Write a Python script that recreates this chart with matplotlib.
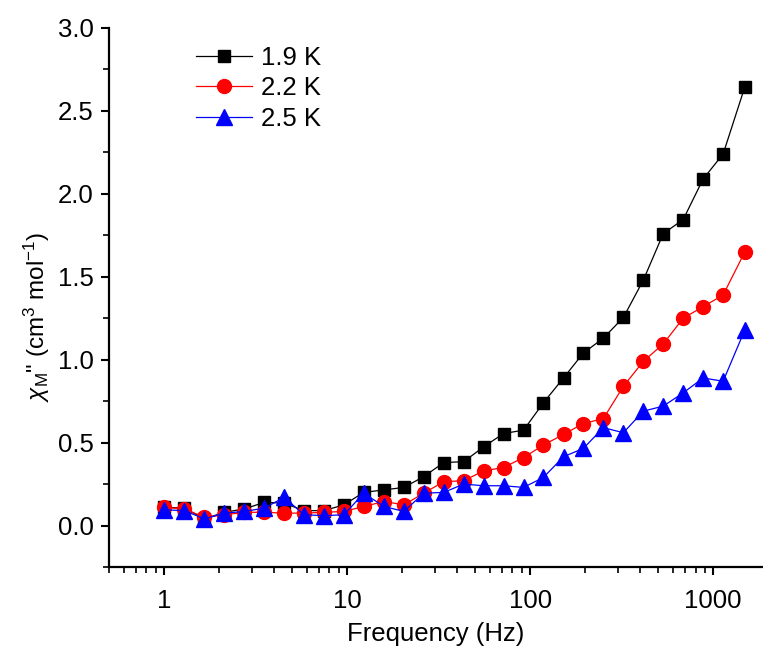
import numpy as np
import matplotlib
matplotlib.use("Agg")
from matplotlib import pyplot as plt
from matplotlib.ticker import LogLocator, MultipleLocator, NullFormatter

plt.rcParams['font.family'] = ['Liberation Sans', 'DejaVu Sans']
plt.rcParams['mathtext.fontset'] = 'custom'
plt.rcParams['mathtext.rm'] = 'Liberation Sans'
plt.rcParams['mathtext.it'] = 'Liberation Sans:italic'

# ac frequencies (Hz)
freq = [1, 1.29, 1.66, 2.13, 2.74, 3.52, 4.52, 5.81, 7.47, 9.6,
        12.3, 15.9, 20.4, 26.2, 33.7, 43.3, 55.7, 71.5, 91.9, 118,
        152, 195, 251, 323, 415, 533, 685, 881, 1132, 1488]

# out-of-phase susceptibility (cm3 mol-1)
chi_19K = [0.11, 0.105, 0.04, 0.08, 0.10, 0.14, 0.135, 0.09, 0.09, 0.125,
           0.20, 0.215, 0.23, 0.295, 0.38, 0.385, 0.475, 0.555, 0.575, 0.74,
           0.89, 1.04, 1.13, 1.255, 1.48, 1.76, 1.845, 2.09, 2.24, 2.645]
chi_22K = [0.11, 0.10, 0.05, 0.065, 0.08, 0.08, 0.075, 0.075, 0.08, 0.085,
           0.115, 0.145, 0.125, 0.195, 0.265, 0.27, 0.33, 0.35, 0.41, 0.485,
           0.55, 0.615, 0.645, 0.84, 0.99, 1.095, 1.25, 1.32, 1.39, 1.65]
chi_25K = [0.095, 0.09, 0.04, 0.075, 0.085, 0.105, 0.17, 0.065, 0.06, 0.065,
           0.195, 0.115, 0.085, 0.195, 0.20, 0.25, 0.24, 0.24, 0.23, 0.29,
           0.415, 0.465, 0.59, 0.56, 0.69, 0.72, 0.80, 0.89, 0.87, 1.18]

fig = plt.figure(figsize=(7.63, 6.51), dpi=100)
ax = fig.add_axes([0.143, 0.129, 0.857, 0.828])

ax.plot(freq, chi_19K, color='k', lw=0.9, marker='s', ms=9, label='1.9 K')
ax.plot(freq, chi_22K, color='red', lw=0.9, marker='o', ms=10, label='2.2 K')
ax.plot(freq, chi_25K, color='blue', lw=0.9, marker='^', ms=11, label='2.5 K')

ax.set_xscale('log')
ax.set_xlim(0.5, 1870)
ax.set_ylim(-0.25, 3.0)

ax.spines['top'].set_visible(False)
ax.spines['right'].set_visible(False)
ax.spines['left'].set_linewidth(1.6)
ax.spines['bottom'].set_linewidth(1.6)

ax.xaxis.set_minor_locator(LogLocator(base=10, subs=np.arange(2, 10), numticks=20))
ax.xaxis.set_minor_formatter(NullFormatter())
ax.set_xticks([1, 10, 100, 1000])
ax.set_xticklabels(['1', '10', '100', '1000'])
ax.yaxis.set_major_locator(MultipleLocator(0.5))
ax.yaxis.set_minor_locator(MultipleLocator(0.25))
ax.yaxis.set_major_formatter(matplotlib.ticker.FormatStrFormatter('%.1f'))

ax.tick_params(which='major', length=6, width=1.5, labelsize=18.5, direction='out')
ax.tick_params(which='minor', length=4, width=1.2, direction='out')
ax.tick_params(axis='x', which='major', pad=10)
ax.tick_params(axis='y', which='major', pad=5)

ax.set_xlabel('Frequency (Hz)', fontsize=18.5)
ax.set_ylabel(r'$\chi_{\mathrm{M}}$" (cm$^{3}$ mol$^{-1}$)', fontsize=17.5)
ax.yaxis.set_label_coords(-0.088, 0.464)
ax.xaxis.set_label_coords(0.5, -0.102)

ax.legend(loc='upper left', bbox_to_anchor=(0.105, 1.0), frameon=False,
          fontsize=18.5, handlelength=2.2, handletextpad=0.35, labelspacing=0.25,
          borderaxespad=0.3)

fig.savefig('out.png', dpi=100)
